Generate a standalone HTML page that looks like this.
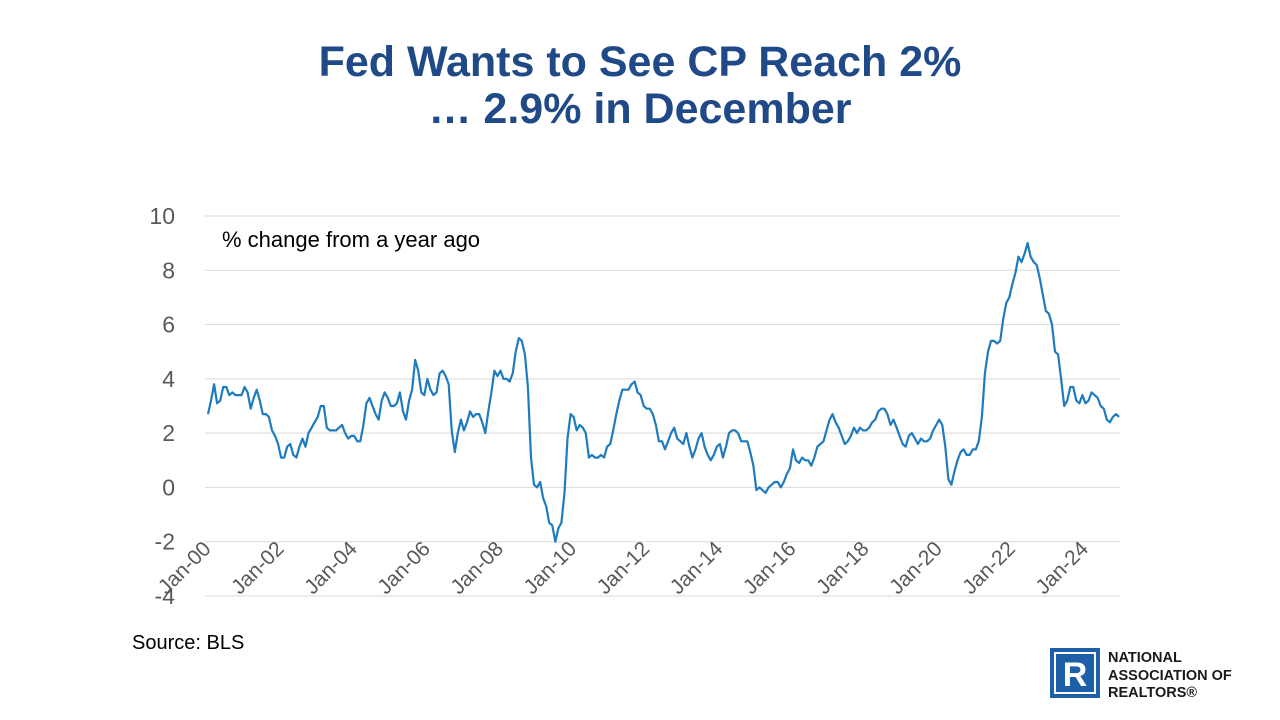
<!DOCTYPE html>
<html><head><meta charset="utf-8"><style>
body{margin:0;width:1280px;height:720px;background:#fff;font-family:"Liberation Sans",sans-serif;overflow:hidden;position:relative}
.title{position:absolute;left:0;width:1280px;top:39px;text-align:center;color:#1f4a87;font-weight:bold;font-size:43px;line-height:47px}
</style></head><body>
<div class="title">Fed Wants to See CP Reach 2%<br>… 2.9% in December</div>
<svg width="1280" height="720" style="position:absolute;left:0;top:0">
<g id="grid"></g><g id="ylabels"></g><g id="xlabels"></g>
<path id="line" fill="none" stroke="#1f7bbf" stroke-width="2.2" stroke-linejoin="round"/>
<text x="222" y="247" font-size="22" fill="#000">% change from a year ago</text>
<text x="132" y="649" font-size="20" fill="#000">Source: BLS</text>
<g>
<rect x="1050" y="648" width="50" height="50" fill="#1f5fa8"/>
<rect x="1055" y="653" width="40" height="40" fill="none" stroke="#fff" stroke-width="2"/>
<text x="1075" y="686" font-size="34" font-weight="bold" fill="#fff" text-anchor="middle">R</text>
<text x="1108" y="662" font-size="14.5" font-weight="bold" fill="#1a1a1a">NATIONAL</text>
<text x="1108" y="680" font-size="14.5" font-weight="bold" fill="#1a1a1a">ASSOCIATION OF</text>
<text x="1108" y="697" font-size="14.5" font-weight="bold" fill="#1a1a1a">REALTORS®</text>
</g>
</svg>
<script>
const yTicks=[10,8,6,4,2,0,-2,-4];
const xTickLabels=["Jan-00","Jan-02","Jan-04","Jan-06","Jan-08","Jan-10","Jan-12","Jan-14","Jan-16","Jan-18","Jan-20","Jan-22","Jan-24"];
const cpi2000_2004=[2.7,3.2,3.8,3.1,3.2,3.7,3.7,3.4,3.5,3.4,3.4,3.4,3.7,3.5,2.9,3.3,3.6,3.2,2.7,2.7,2.6,2.1,1.9,1.6,1.1,1.1,1.5,1.6,1.2,1.1,1.5,1.8,1.5,2.0,2.2,2.4,2.6,3.0,3.0,2.2,2.1,2.1,2.1,2.2,2.3,2.0,1.8,1.9,1.9,1.7,1.7,2.3,3.1,3.3,3.0,2.7,2.5,3.2,3.5,3.3];
const cpi2005_2009=[3.0,3.0,3.1,3.5,2.8,2.5,3.2,3.6,4.7,4.3,3.5,3.4,4.0,3.6,3.4,3.5,4.2,4.3,4.1,3.8,2.1,1.3,2.0,2.5,2.1,2.4,2.8,2.6,2.7,2.7,2.4,2.0,2.8,3.5,4.3,4.1,4.3,4.0,4.0,3.9,4.2,5.0,5.5,5.4,4.9,3.7,1.1,0.1,0.0,0.2,-0.4,-0.7,-1.3,-1.4,-2.0,-1.5,-1.3,-0.2,1.8,2.7];
const cpi2010_2014=[2.6,2.1,2.3,2.2,2.0,1.1,1.2,1.1,1.1,1.2,1.1,1.5,1.6,2.1,2.7,3.2,3.6,3.6,3.6,3.8,3.9,3.5,3.4,3.0,2.9,2.9,2.7,2.3,1.7,1.7,1.4,1.7,2.0,2.2,1.8,1.7,1.6,2.0,1.5,1.1,1.4,1.8,2.0,1.5,1.2,1.0,1.2,1.5,1.6,1.1,1.5,2.0,2.1,2.1,2.0,1.7,1.7,1.7,1.3,0.8];
const cpi2015_2019=[-0.1,0.0,-0.1,-0.2,0.0,0.1,0.2,0.2,0.0,0.2,0.5,0.7,1.4,1.0,0.9,1.1,1.0,1.0,0.8,1.1,1.5,1.6,1.7,2.1,2.5,2.7,2.4,2.2,1.9,1.6,1.7,1.9,2.2,2.0,2.2,2.1,2.1,2.2,2.4,2.5,2.8,2.9,2.9,2.7,2.3,2.5,2.2,1.9,1.6,1.5,1.9,2.0,1.8,1.6,1.8,1.7,1.7,1.8,2.1,2.3];
const cpi2020_2024=[2.5,2.3,1.5,0.3,0.1,0.6,1.0,1.3,1.4,1.2,1.2,1.4,1.4,1.7,2.6,4.2,5.0,5.4,5.4,5.3,5.4,6.2,6.8,7.0,7.5,7.9,8.5,8.3,8.6,9.0,8.5,8.3,8.2,7.7,7.1,6.5,6.4,6.0,5.0,4.9,4.0,3.0,3.2,3.7,3.7,3.2,3.1,3.4,3.1,3.2,3.5,3.4,3.3,3.0,2.9,2.5,2.4,2.6,2.7,2.6];
const values=[...cpi2000_2004,...cpi2005_2009,...cpi2010_2014,...cpi2015_2019,...cpi2020_2024];
const NS="http://www.w3.org/2000/svg";
const yMin=-4,yMax=10,pTop=216,pBottom=596,pLeft=205,pRight=1120;
const x0=208,x1=1119;
function yS(v){return pBottom-(v-yMin)/(yMax-yMin)*(pBottom-pTop);}
function xS(i){return x0+i*(x1-x0)/(values.length-1);}
const grid=document.getElementById('grid'),yl=document.getElementById('ylabels'),xl=document.getElementById('xlabels');
yTicks.forEach(t=>{
 const l=document.createElementNS(NS,'line');
 l.setAttribute('x1',pLeft);l.setAttribute('x2',pRight);l.setAttribute('y1',yS(t));l.setAttribute('y2',yS(t));
 l.setAttribute('stroke','#d9d9d9');l.setAttribute('stroke-width','1');
 
 
 grid.appendChild(l);
 const tx=document.createElementNS(NS,'text');
 tx.setAttribute('x',175);tx.setAttribute('y',yS(t)+8);tx.setAttribute('text-anchor','end');
 tx.setAttribute('font-size','23');tx.setAttribute('fill','#595959');tx.textContent=t;
 
 
 yl.appendChild(tx);
});
xTickLabels.forEach((s,k)=>{
 const x=xS(k*24),y=550;
 const tx=document.createElementNS(NS,'text');
 tx.setAttribute('x',x+4);tx.setAttribute('y',y);tx.setAttribute('text-anchor','end');
 tx.setAttribute('font-size','21');tx.setAttribute('fill','#595959');
 tx.setAttribute('transform','rotate(-45 '+(x+4)+' '+y+')');tx.textContent=s;
 
 
 xl.appendChild(tx);
});
document.getElementById('line').setAttribute('d',values.map((v,i)=>(i?'L':'M')+xS(i).toFixed(1)+' '+yS(v).toFixed(1)).join(' '));
</script>
</body></html>
